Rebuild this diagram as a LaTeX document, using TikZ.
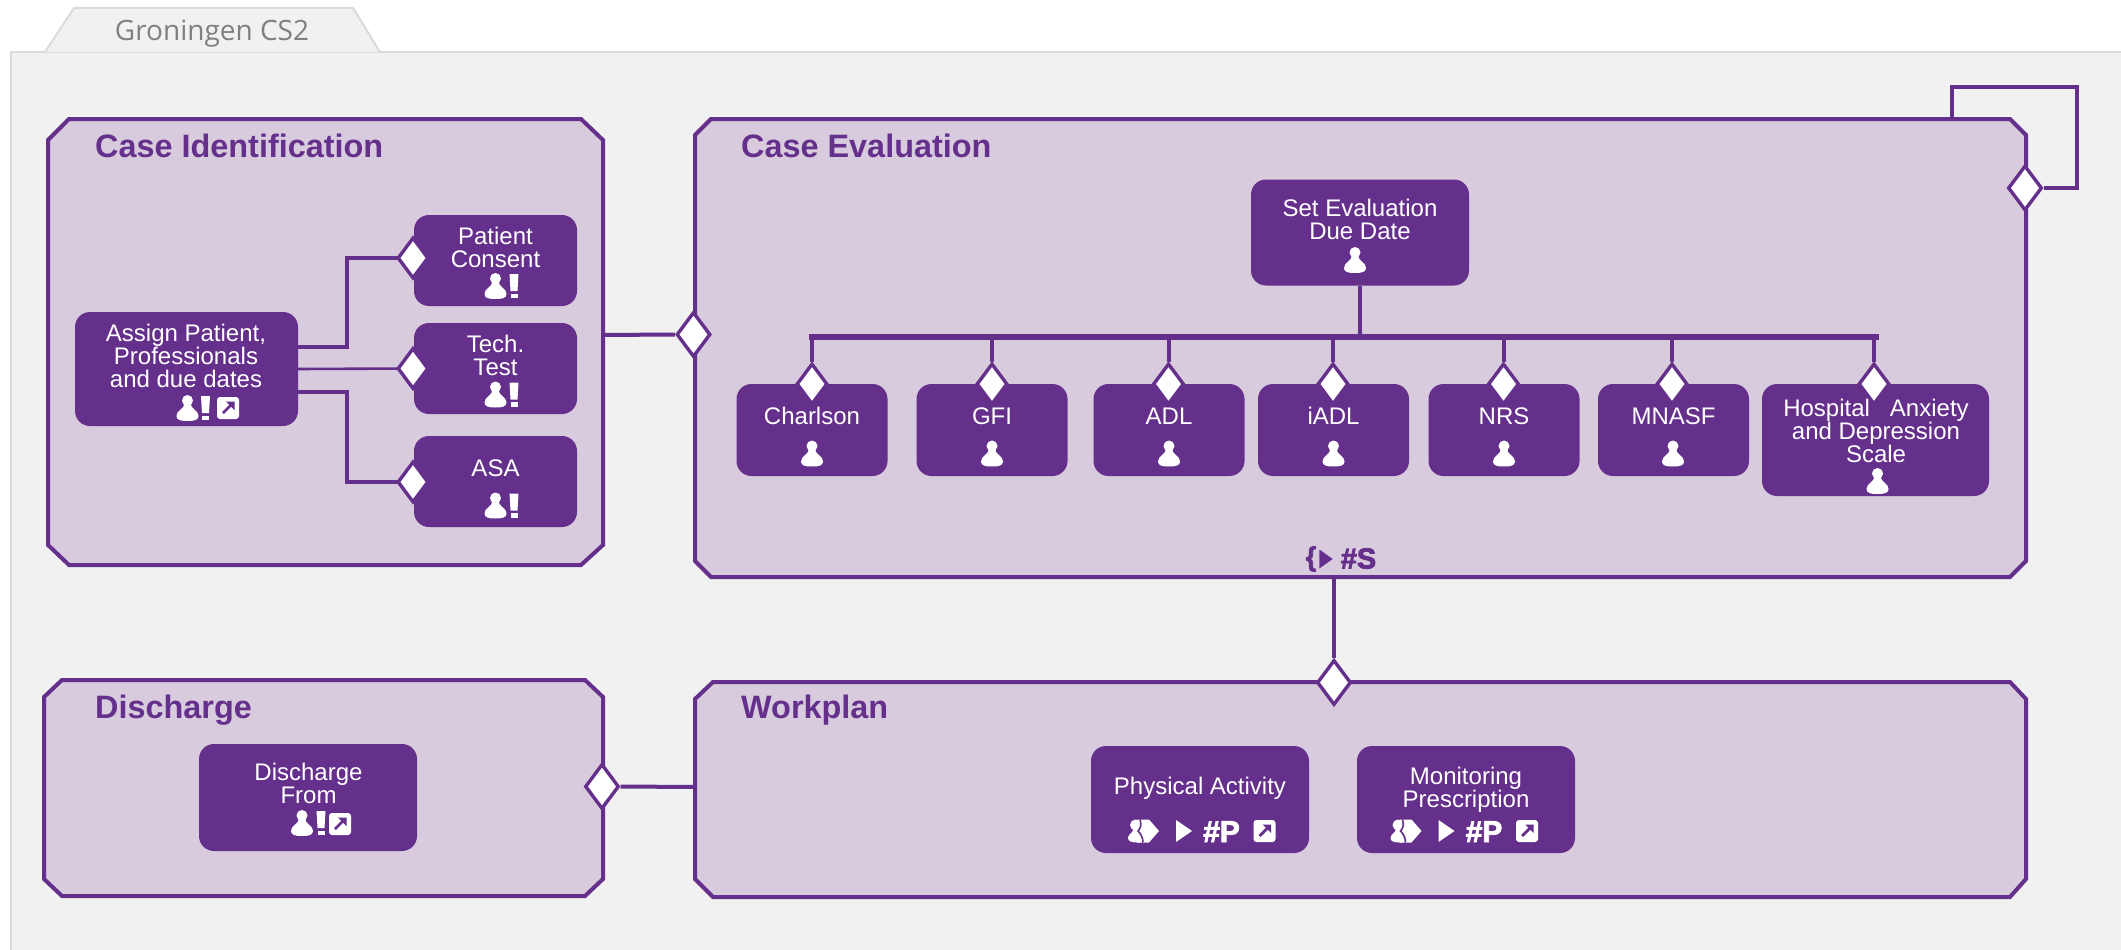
\documentclass[tikz,border=0pt]{standalone}
\usepackage{fontspec}
\setmainfont{Liberation Sans}
\newfontfamily\tabfont{Open Sans}
\newfontfamily\heavyfont[FakeBold=2.6]{Liberation Sans Bold}
\usetikzlibrary{shapes.geometric}
\definecolor{pur}{HTML}{652F8C}
\definecolor{lilac}{HTML}{D8CBDD}
\definecolor{panel}{HTML}{F1F1F1}
\definecolor{panelline}{HTML}{DADADA}
\tikzset{
  x=1pt,y=-1pt,
  outerbox/.style={draw=pur,fill=lilac,line width=4pt,line join=miter},
  taskbox/.style={fill=pur,draw=none,rounded corners=15pt,inner sep=0pt,minimum width=#1},
  conn/.style={draw=pur,line width=4pt},
  thickconn/.style={draw=pur,line width=6pt},
  gate/.style={diamond,aspect=0.75,draw=pur,fill=white,line width=3.4pt,inner sep=0pt,minimum width=31pt,minimum height=41pt},
  biggate/.style={gate,minimum width=34pt,minimum height=45pt},
  title/.style={text=pur,font=\fontsize{32.4}{32}\selectfont\bfseries,anchor=base west,inner sep=0pt},
  boxtext/.style={text=white,font=\fontsize{24}{23}\selectfont,align=center,inner sep=0pt,anchor=base},
  person/.pic={
    \fill[white] (0,-7.5) circle (5.5);
    \fill[white] (-3.2,-4) .. controls (-3.2,1) and (-11,2) .. (-11,8) .. controls (-11,12) and (-7,13) .. (0,13) .. controls (7,13) and (11,12) .. (11,8) .. controls (11,2) and (3.2,1) .. (3.2,-4) -- cycle;
  },
  warn/.pic={
    \fill[white] (-4.5,-12) -- (4.5,-12) -- (3.5,5) -- (-3.5,5) -- cycle;
    \fill[white] (-3.5,7.5) rectangle (3.5,12);
  },
  linkbox/.pic={
    \fill[white,rounded corners=3pt] (-11,-11) rectangle (11,11);
    \draw[pur,line width=2.8pt] (-5,5) -- (3,-3);
    \fill[pur] (-2,-6.5) -- (6.5,-6.5) -- (6.5,2) -- cycle;
  },
  group/.pic={
    \fill[white] (-6,-11.5) -- (6,-11.5) -- (16,0) -- (6,11.5) -- (-6,11.5) -- cycle;
    \fill[white] (-7.5,-6) circle (5.5);
    \fill[white] (-10,-1) .. controls (-10,2) and (-15,3) .. (-15,7) .. controls (-15,10.5) and (-11,11.5) .. (-6,11.5) -- (-3,11.5) -- (-3,-1) -- cycle;
    \draw[pur,line width=1.6pt] (-3,-11.5) .. controls (-1,-6) and (-3,-2) .. (-5,0) .. controls (-2,3) and (0,7) .. (0,11.5);
  },
  playtri/.pic={
    \fill[white] (-8,-11) -- (8,0) -- (-8,11) -- cycle;
  },
  playdark/.pic={
    \fill[pur] (-7,-10) -- (7,0) -- (-7,10) -- cycle;
  },
}
\begin{document}
\begin{tikzpicture}
\useasboundingbox (0,0) rectangle (2121,950);
\fill[white] (0,0) rectangle (2121,950);
% panel and tab
\fill[panel] (11,950) -- (11,52) -- (2121,52) -- (2121,950) -- cycle;
\draw[panelline,line width=2pt] (11,950) -- (11,52) -- (2121,52);
\path[fill=panel,draw=panelline,line width=2pt] (45,52) -- (74,8) -- (353,8) -- (380,52);
\node (tabtext) at (212,34) [text=black!50,font=\fontsize{28}{28}\selectfont\tabfont,inner sep=0pt] {Groningen CS2};

\coordinate (loopstart) at (1952,119);

% outer boxes
\path[outerbox] (69,119) -- (581,119) -- (603,140) -- (603,545) -- (581,565) -- (69,565) -- (48,545) -- (48,140) -- cycle;
\path[outerbox] (711,119) -- (2010,119) -- (2026,135) -- (2026,561) -- (2010,577) -- (711,577) -- (695,561) -- (695,135) -- cycle;
\path[outerbox] (62,680) -- (585,680) -- (603,697) -- (603,879) -- (585,896) -- (62,896) -- (44,879) -- (44,697) -- cycle;
\path[outerbox] (713,682) -- (2010,682) -- (2026,699) -- (2026,879) -- (2010,897) -- (713,897) -- (695,879) -- (695,699) -- cycle;

\coordinate (idright) at (603,335);
\coordinate (evbottom) at (1334,577);
\coordinate (wpleft) at (695,787);

% titles
\node (t1) at (95,157) [title] {Case Identification};
\node (t2) at (741,157) [title] {Case Evaluation};
\node (t3) at (95,718) [title] {Discharge};
\node (t4) at (741,718) [title] {Workplan};

% Case Identification tasks
\node (assign) at (186.5,369) [taskbox=223pt,minimum height=114pt] {};
\node (consent) at (495.5,260.5) [taskbox=163pt,minimum height=91pt] {};
\node (tech) at (495.5,368.5) [taskbox=163pt,minimum height=91pt] {};
\node (asa) at (495.5,481.5) [taskbox=163pt,minimum height=91pt] {};

\node (assignT) at (186,387) [boxtext] {Assign Patient,\\Professionals\\and due dates};
\node (consentT) at (495.5,267) [boxtext] {Patient\\Consent};
\node (techT) at (495.5,375) [boxtext] {Tech.\\Test};
\node (asaT) at (495.5,476) [boxtext] {ASA};

\pic at (187.5,408) {person};
\pic at (205.5,408) {warn};
\pic at (228,408) {linkbox};
\pic at (495.5,286) {person};
\pic at (514,286) {warn};
\pic at (495.5,394.5) {person};
\pic at (514,394.5) {warn};
\pic at (495.5,505.5) {person};
\pic at (514,505.5) {warn};

\draw[conn] (assign.east |- 0,347) -- (347,347) |- (413,258);
\draw[conn,line width=2.6pt] (assign.east) -- (413,368.5);
\draw[conn] (assign.east |- 0,392) -- (347,392) |- (413,482);

\node (gconsent) at (413,258) [gate] {};
\node (gtech) at (413,368.5) [gate] {};
\node (gasa) at (413,482) [gate] {};

% Case Evaluation
\node (due) at (1360,232.5) [taskbox=218pt,minimum height=106pt] {};
\node (dueT) at (1360,239) [boxtext] {Set Evaluation\\Due Date};
\pic at (1355,260) {person};

\node (charlson) at (812,430) [taskbox=151pt,minimum height=92pt] {};
\node (gfi) at (992,430) [taskbox=151pt,minimum height=92pt] {};
\node (adl) at (1169,430) [taskbox=151pt,minimum height=92pt] {};
\node (iadl) at (1333.5,430) [taskbox=151pt,minimum height=92pt] {};
\node (nrs) at (1504,430) [taskbox=151pt,minimum height=92pt] {};
\node (mnasf) at (1673.5,430) [taskbox=151pt,minimum height=92pt] {};
\node (hads) at (1875.5,440) [taskbox=227pt,minimum height=112pt] {};

\node (charlsonT) at (812,424.5) [boxtext] {Charlson};
\node (gfiT) at (992,424.5) [boxtext] {GFI};
\node (adlT) at (1169,424.5) [boxtext] {ADL};
\node (iadlT) at (1333.5,424.5) [boxtext] {iADL};
\node (nrsT) at (1504,424.5) [boxtext] {NRS};
\node (mnasfT) at (1673.5,424.5) [boxtext] {MNASF};
\node (hadsT) at (1876,462) [boxtext] {Hospital\ \ \ Anxiety\\and Depression\\Scale};

\pic at (812,453.5) {person};
\pic at (992,453.5) {person};
\pic at (1169,453.5) {person};
\pic at (1333.5,453.5) {person};
\pic at (1504,453.5) {person};
\pic at (1673,453.5) {person};
\pic at (1877.5,481) {person};

\coordinate (busL) at (812,337);
\coordinate (busR) at (1876,337);
\draw[thickconn,line cap=rect] (busL) -- (busR);
\draw[conn,line width=4.4pt] (due.south) -- (due.south |- busL);

\node (gcharlson) at (812,384) [gate] {};
\node (ggfi) at (992,384) [gate] {};
\node (gadl) at (1168.5,384) [gate] {};
\node (giadl) at (1333,384) [gate] {};
\node (gnrs) at (1503.5,384) [gate] {};
\node (gmnasf) at (1672,384) [gate] {};
\node (ghads) at (1874,384) [gate] {};

\foreach \g in {gcharlson,ggfi,gadl,giadl,gnrs,gmnasf,ghads}
  \draw[conn] (\g.north) -- (\g.north |- busL);

% marker row
\node (brace) at (1311,559) [text=pur,font=\fontsize{27}{27}\heavyfont,inner sep=0pt] {\{};
\pic[scale=0.95] at (1326,559) {playdark};
\node (hashS) at (1358.5,568.5) [text=pur,font=\fontsize{29}{29}\heavyfont,inner sep=0pt,anchor=base] {\#S};

% Connectors between stages
\node (gev) at (693.5,334.5) [biggate] {};
\draw[conn] (idright) -- (gev.west);

\node (gwp) at (1334,682.5) [biggate] {};
\draw[conn] (evbottom) -- (gwp.north);

\node (gdis) at (602,786.5) [biggate] {};
\draw[conn] (wpleft) -- (gdis.east);

\node (gloop) at (2025,188) [biggate] {};
\coordinate (loopcorner) at (2077,87.5);
\draw[conn,line join=miter] (gloop.east) -| (loopcorner) -| (loopstart);

% Discharge
\node (dis) at (308,797.5) [taskbox=218pt,minimum height=107pt] {};
\node (disT) at (308.5,803) [boxtext] {Discharge\\From};
\pic at (302,823) {person};
\pic at (321,823) {warn};
\pic at (340,824) {linkbox};

% Workplan
\node (pa) at (1200,799.5) [taskbox=218pt,minimum height=107pt] {};
\node (mp) at (1466,799.5) [taskbox=218pt,minimum height=107pt] {};
\node (paT) at (1200,794) [boxtext] {Physical Activity};
\node (mpT) at (1466,807) [boxtext] {Monitoring\\Prescription};

\pic at (1143,831) {group};
\pic at (1184,831) {playtri};
\node (hp1) at (1221.5,842) [text=white,font=\fontsize{30}{30}\heavyfont,inner sep=0pt,anchor=base] {\#P};
\pic at (1264.5,831) {linkbox};

\pic at (1405.5,831) {group};
\pic at (1446.5,831) {playtri};
\node (hp2) at (1484,842) [text=white,font=\fontsize{30}{30}\heavyfont,inner sep=0pt,anchor=base] {\#P};
\pic at (1527,831) {linkbox};
\end{tikzpicture}
\end{document}
